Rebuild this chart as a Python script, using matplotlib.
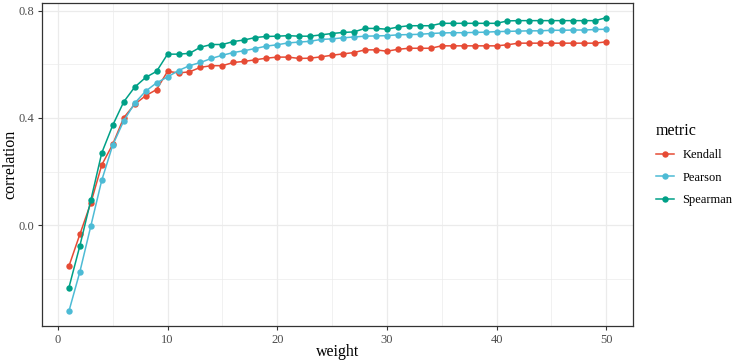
import matplotlib
matplotlib.use("Agg")
import matplotlib.pyplot as plt
from matplotlib.ticker import MultipleLocator

plt.rcParams['font.family'] = ['Liberation Serif', 'DejaVu Serif']

weight = list(range(1, 51))

kendall = [-0.153, -0.034, 0.083, 0.225, 0.302, 0.401, 0.451, 0.483, 0.506, 0.574,
           0.568, 0.572, 0.589, 0.595, 0.595, 0.607, 0.611, 0.617, 0.623, 0.627,
           0.627, 0.622, 0.623, 0.628, 0.634, 0.639, 0.644, 0.654, 0.654, 0.649,
           0.656, 0.660, 0.660, 0.660, 0.669, 0.669, 0.669, 0.669, 0.669, 0.669,
           0.673, 0.679, 0.679, 0.679, 0.679, 0.679, 0.679, 0.679, 0.679, 0.684]

pearson = [-0.321, -0.174, -0.003, 0.168, 0.299, 0.389, 0.455, 0.500, 0.531, 0.553,
           0.577, 0.595, 0.607, 0.622, 0.634, 0.644, 0.651, 0.659, 0.668, 0.673,
           0.680, 0.683, 0.686, 0.693, 0.695, 0.699, 0.702, 0.705, 0.706, 0.707,
           0.710, 0.711, 0.712, 0.715, 0.717, 0.718, 0.718, 0.719, 0.720, 0.722,
           0.723, 0.724, 0.725, 0.725, 0.727, 0.727, 0.728, 0.728, 0.730, 0.731]

spearman = [-0.233, -0.077, 0.093, 0.270, 0.373, 0.460, 0.515, 0.551, 0.574, 0.638,
            0.638, 0.641, 0.664, 0.674, 0.674, 0.685, 0.691, 0.700, 0.704, 0.705,
            0.707, 0.705, 0.705, 0.710, 0.715, 0.719, 0.721, 0.734, 0.734, 0.731,
            0.739, 0.744, 0.744, 0.744, 0.753, 0.753, 0.753, 0.753, 0.753, 0.753,
            0.762, 0.763, 0.763, 0.763, 0.763, 0.763, 0.763, 0.763, 0.763, 0.774]

metrics = ['Kendall', 'Pearson', 'Spearman']
colors = ['#E64B35', '#4DBBD5', '#00A087']

fig = plt.figure(figsize=(7.32, 3.62), dpi=100)
ax = fig.add_axes([0.0574, 0.0994, 0.8074, 0.8923])

for name, vals, col in zip(metrics, [kendall, pearson, spearman], colors):
    ax.plot(weight, vals, color=col, lw=1.1, marker='o', ms=4.6,
            markeredgewidth=0, label=name, zorder=3)

# ggplot-like expansion
ymin = min(min(kendall), min(pearson), min(spearman))
ymax = max(max(kendall), max(pearson), max(spearman))
ypad = (ymax - ymin) * 0.05
ax.set_xlim(1 - 49 * 0.05, 50 + 49 * 0.05)
ax.set_ylim(ymin - ypad, ymax + ypad)

ax.xaxis.set_major_locator(MultipleLocator(10))
ax.xaxis.set_minor_locator(MultipleLocator(5))
ax.yaxis.set_major_locator(MultipleLocator(0.4))
ax.yaxis.set_minor_locator(MultipleLocator(0.2))
ax.yaxis.set_major_formatter(plt.FuncFormatter(lambda v, p: f'{v:.1f}'))

ax.grid(which='major', color='#EBEBEB', lw=0.9, zorder=0)
ax.grid(which='minor', color='#EBEBEB', lw=0.5, zorder=0)
ax.set_axisbelow(True)
for s in ax.spines.values():
    s.set_color('#333333')
    s.set_linewidth(0.9)
ax.tick_params(which='major', length=3, width=0.8, color='#333333',
               labelsize=9, labelcolor='#4D4D4D', pad=2.5)
ax.tick_params(which='minor', length=0)

ax.set_xlabel('weight', fontsize=11.5, va='center')
ax.set_ylabel('correlation', fontsize=11.5, va='center')
ax.xaxis.set_label_coords(0.5, -0.08)
ax.yaxis.set_label_coords(-0.054, 0.5)

leg = ax.legend(title='metric', loc='center left', bbox_to_anchor=(1.02, 0.5),
                frameon=False, fontsize=9, title_fontsize=11.5,
                handlelength=1.4, labelspacing=0.85, handletextpad=0.7)
leg._legend_box.align = 'left'

fig.savefig('out.png', dpi=100)
